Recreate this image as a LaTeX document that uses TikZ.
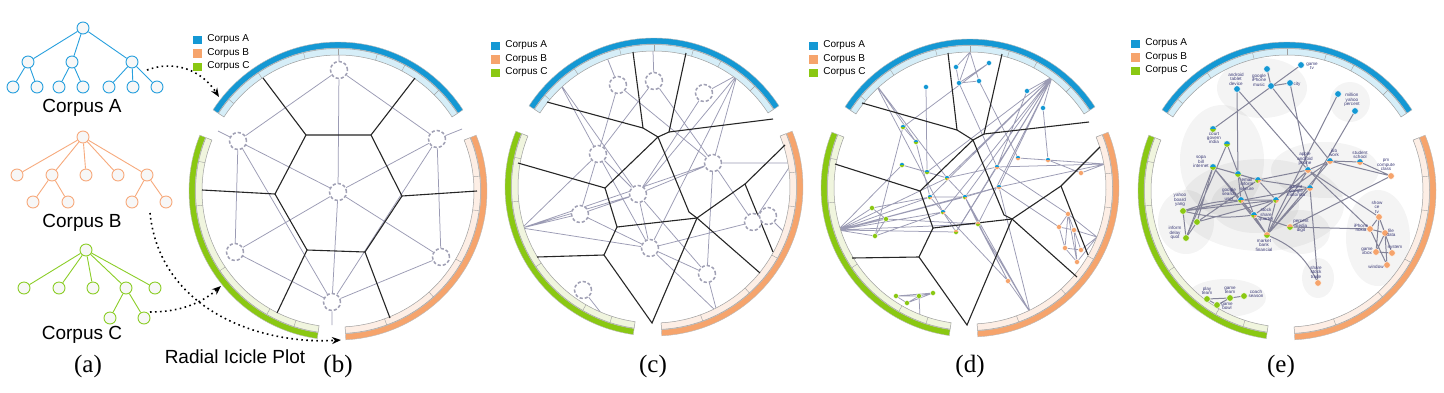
\documentclass[tikz,border=0pt]{standalone}
\usepackage{fontspec}
\setmainfont{Liberation Sans}
\newfontfamily\capfont{Liberation Serif}
\usetikzlibrary{arrows.meta,positioning,shapes}
\pgfdeclarelayer{back}
\pgfsetlayers{back,main}
\definecolor{corpA}{RGB}{20,152,212}
\definecolor{corpB}{RGB}{246,164,108}
\definecolor{corpC}{RGB}{138,200,18}
\definecolor{lightA}{RGB}{214,238,248}
\definecolor{lightB}{RGB}{253,238,229}
\definecolor{lightC}{RGB}{240,245,222}
\definecolor{treeA}{RGB}{40,160,222}
\definecolor{treeB}{RGB}{247,170,125}
\definecolor{treeC}{RGB}{140,206,40}
\definecolor{edgeC}{RGB}{155,155,180}
\definecolor{nodeC}{RGB}{160,160,180}
\definecolor{navy}{RGB}{60,60,120}
\tikzset{
  tnode/.style={circle,draw=#1,fill=gray!6,line width=0.9pt,minimum size=12pt,inner sep=0pt},
  tedge/.style={draw=#1,line width=0.9pt},
  dnode/.style={circle,draw=nodeC,fill=white,line width=1.5pt,dash pattern=on 3.2pt off 2pt,minimum size=17pt,inner sep=0pt},
  gedge/.style={draw=edgeC,line width=0.75pt},
  eedge/.style={draw=edgeC!85!black,line width=1pt},
  voro/.style={draw=black!85,line width=1.1pt},
  dotbase/.style={circle,inner sep=0pt,minimum size=5pt,draw=white,line width=0.3pt},
  dotA/.style={dotbase,fill=corpA},
  dotB/.style={dotbase,fill=corpB},
  dotC/.style={dotbase,fill=corpC},
  dotAC/.style={dotbase,fill=corpC,path picture={\fill[corpA] (path picture bounding box.west) rectangle (path picture bounding box.north east);}},
  dotAB/.style={dotbase,fill=corpB,path picture={\fill[corpA] (path picture bounding box.west) rectangle (path picture bounding box.north east);}},
  dotBC/.style={dotbase,fill=corpC,path picture={\fill[corpB] (path picture bounding box.west) rectangle (path picture bounding box.north east);}},
  dotABC/.style={dotbase,fill=corpB,path picture={\fill[corpA] (path picture bounding box.west) rectangle (path picture bounding box.north east);\fill[corpC] (path picture bounding box.south west) rectangle (path picture bounding box.center);}},
  big/.style={minimum size=6.5pt},
  wlab/.style={font=\fontsize{4.6}{4.4}\selectfont,text=navy,align=center,inner sep=0pt},
  legsq/.style={minimum width=10pt,minimum height=9.5pt,inner sep=0pt,draw=white,line width=0.3pt},
  legtx/.style={font=\fontsize{10}{12}\selectfont,inner sep=0pt,anchor=west},
  bigtx/.style={font=\fontsize{19}{22}\selectfont,inner sep=0pt},
  captx/.style={font=\capfont\fontsize{25}{28}\selectfont,inner sep=0pt},
  dotarrow/.style={line width=1.6pt,dash pattern=on 1.6pt off 3.4pt,-{Stealth[length=9pt,width=7pt]}},
  blob/.style={fill=black,fill opacity=0.045,draw=none}
}
\newcommand{\icering}[1]{%
\begin{scope}[shift={#1}]
\foreach \ia/\ib/\col/\lcol in {33/147/corpA/lightA,-87/22/corpB/lightB,158/262/corpC/lightC}{
\filldraw[fill=\col,draw=gray!55,line width=0.4pt] (\ia:149) arc[start angle=\ia,end angle=\ib,radius=149] -- (\ib:143) arc[start angle=\ib,end angle=\ia,radius=143] -- cycle;
\filldraw[fill=\lcol,draw=gray!75,line width=0.5pt] (\ia:142.5) arc[start angle=\ia,end angle=\ib,radius=142.5] -- (\ib:136) arc[start angle=\ib,end angle=\ia,radius=136] -- cycle;
}
\foreach \tk in {45,62,74,90,104,124,140,-70,-48,-30,-8,6,168,186,214,240,252}
\draw[gray!75,line width=0.4pt] (\tk:136) -- (\tk:142.5);
\end{scope}}
\newcommand{\corplegend}[3]{%
\node[legsq,fill=corpA] (#1sqA) at (#2+5,#3-4.5) {};
\node[legsq,fill=corpB] (#1sqB) at (#2+5,#3-18) {};
\node[legsq,fill=corpC] (#1sqC) at (#2+5,#3-31.5) {};
\node[legtx,right=5pt of #1sqA] (#1txA) {Corpus A};
\node[legtx,right=5pt of #1sqB] (#1txB) {Corpus B};
\node[legtx,right=5pt of #1sqC] (#1txC) {Corpus C};}

\begin{document}
\begin{tikzpicture}[x=1pt,y=1pt]
\useasboundingbox (0,0) rectangle (1444,-392);
\begin{pgfonlayer}{back}
\fill[white] (0,0) rectangle (1444,-392);
\end{pgfonlayer}

\node[tnode=treeA] (tAR) at (83,-28) {};
\node[tnode=treeA] (tA1) at (28,-62) {};
\node[tnode=treeA] (tA2) at (72,-62) {};
\node[tnode=treeA] (tA3) at (132,-62) {};
\node[tnode=treeA] (tA11) at (13,-87) {};
\node[tnode=treeA] (tA12) at (37,-87) {};
\node[tnode=treeA] (tA21) at (59,-87) {};
\node[tnode=treeA] (tA22) at (83,-87) {};
\node[tnode=treeA] (tA31) at (109,-87) {};
\node[tnode=treeA] (tA32) at (133,-87) {};
\node[tnode=treeA] (tA33) at (157,-87) {};
\draw[tedge=treeA] (tAR) -- (tA1) (tAR) -- (tA2) (tAR) -- (tA3) (tA1) -- (tA11) (tA1) -- (tA12) (tA2) -- (tA21) (tA2) -- (tA22) (tA3) -- (tA31) (tA3) -- (tA32) (tA3) -- (tA33);
\node[bigtx] (labA) at (82,-108) {Corpus A};

\node[tnode=treeB] (tBR) at (83,-137) {};
\node[tnode=treeB] (tB1) at (17,-175) {};
\node[tnode=treeB] (tB2) at (52,-175) {};
\node[tnode=treeB] (tB3) at (86,-175) {};
\node[tnode=treeB] (tB4) at (118,-175) {};
\node[tnode=treeB] (tB5) at (147,-175) {};
\node[tnode=treeB] (tB21) at (33,-202) {};
\node[tnode=treeB] (tB22) at (68,-202) {};
\node[tnode=treeB] (tB51) at (132,-202) {};
\node[tnode=treeB] (tB52) at (166,-202) {};
\draw[tedge=treeB] (tBR) -- (tB1) (tBR) -- (tB2) (tBR) -- (tB3) (tBR) -- (tB4) (tBR) -- (tB5) (tB2) -- (tB21) (tB2) -- (tB22) (tB5) -- (tB51) (tB5) -- (tB52);
\node[bigtx] (labB) at (82,-223) {Corpus B};

\node[tnode=treeC] (tCR) at (86,-250) {};
\node[tnode=treeC] (tC1) at (24,-288) {};
\node[tnode=treeC] (tC2) at (59,-288) {};
\node[tnode=treeC] (tC3) at (93,-288) {};
\node[tnode=treeC] (tC4) at (126,-288) {};
\node[tnode=treeC] (tC5) at (155,-288) {};
\node[tnode=treeC] (tC41) at (110,-318) {};
\node[tnode=treeC] (tC42) at (144,-318) {};
\draw[tedge=treeC] (tCR) -- (tC1) (tCR) -- (tC2) (tCR) -- (tC3) (tCR) -- (tC4) (tCR) -- (tC5) (tC4) -- (tC41) (tC4) -- (tC42);
\node[bigtx] (labC) at (82,-335) {Corpus C};

\node[captx] (capA) at (88,-366) {(a)};
\node[bigtx] (labRIP) at (235,-357) {Radial Icicle Plot};

\icering{(338,-191)}
\icering{(654,-187)}
\icering{(970,-188)}
\icering{(1287,-191)}
\corplegend{b}{192}{-35}
\corplegend{c}{490}{-41}
\corplegend{d}{808}{-41}
\corplegend{e}{1130}{-39}

\coordinate (srcA) at (147,-70);
\coordinate (dstA) at (219,-97);
\coordinate (srcB) at (150,-213);
\coordinate (dstB) at (341,-340);
\coordinate (srcC) at (150,-312);
\coordinate (dstC) at (221,-286);
\draw[dotarrow] (srcA) .. controls (180,-58) and (205,-75) .. (dstA);
\draw[dotarrow] (srcB) .. controls (160,-310) and (260,-345) .. (dstB);
\draw[dotarrow] (srcC) .. controls (185,-312) and (205,-300) .. (dstC);

\draw[voro] (263,-78) -- (306,-135) -- (371,-135) -- (415,-78);
\draw[voro] (306,-135) -- (275,-194) -- (202,-190);
\draw[voro] (371,-135) -- (402,-196) -- (477,-191);
\draw[voro] (275,-194) -- (307,-250) -- (277,-313);
\draw[voro] (402,-196) -- (365,-252) -- (390,-318);
\draw[voro] (307,-250) -- (365,-252);
\node[dnode] (bT) at (339,-70) {};
\node[dnode] (bUL) at (238,-141) {};
\node[dnode] (bUR) at (437,-139) {};
\node[dnode] (bC) at (338,-192) {};
\node[dnode] (bLL) at (235,-252) {};
\node[dnode] (bLR) at (441,-257) {};
\node[dnode] (bB) at (332,-302) {};
\coordinate (bRT) at (339,-52);
\coordinate (bRUL) at (218,-131);
\coordinate (bRUR) at (462,-129);
\coordinate (bRB) at (332,-325);
\begin{pgfonlayer}{back}
\draw[gedge] (bRT) -- (bT) (bT) -- (bUL) (bT) -- (bUR) (bT) -- (bC) (bUL) -- (bC) (bUR) -- (bC) (bUL) -- (bLL) (bUL) -- (bB) (bUR) -- (bLR) (bUR) -- (bB) (bC) -- (bLL) (bC) -- (bLR) (bC) -- (bB) (bLL) -- (bB) (bLR) -- (bB) (bUL) -- (bRUL) (bUR) -- (bRUR) (bB) -- (bRB);
\end{pgfonlayer}
\node[captx] (capB) at (338,-366) {(b)};

\draw[voro] (547,-102) -- (643,-128) -- (633,-52);
\draw[voro] (643,-128) -- (658,-137) -- (669,-132) -- (686,-53);
\draw[voro] (669,-132) -- (773,-119);
\draw[voro] (518,-163) -- (605,-188) -- (658,-137) -- (689,-212) -- (697,-218);
\draw[voro] (605,-188) -- (617,-227) -- (697,-218) -- (745,-184) -- (785,-145);
\draw[voro] (745,-184) -- (773,-252);
\draw[voro] (697,-218) -- (760,-273);
\draw[voro] (617,-227) -- (604,-255) -- (652,-323) -- (697,-218);
\draw[voro] (537,-257) -- (604,-255);
\node[dnode] (c1) at (618,-85) {};
\node[dnode] (c2) at (654,-81) {};
\node[dnode] (c3) at (704,-93) {};
\node[dnode] (c4) at (598,-154) {};
\node[dnode] (c5) at (713,-163) {};
\node[dnode] (c6) at (638,-194) {};
\node[dnode] (c7) at (580,-214) {};
\node[dnode] (c8) at (753,-222) {};
\node[dnode] (c9) at (768,-216) {};
\node[dnode] (c10) at (650,-248) {};
\node[dnode] (c11) at (707,-274) {};
\node[dnode] (c12) at (583,-290) {};
\coordinate (cR1) at (606,-55);
\coordinate (cR2) at (653,-51);
\coordinate (cR3) at (737,-75);
\coordinate (cR4) at (559,-82);
\coordinate (cR5) at (522,-228);
\coordinate (cR6) at (792,-163);
\coordinate (cR7) at (717,-312);
\coordinate (cR8) at (605,-318);
\coordinate (cR9) at (787,-235);
\begin{pgfonlayer}{back}
\draw[gedge] (cR1) -- (c1) (cR2) -- (c2) (c1) -- (c4) (c2) -- (c4) (c2) -- (c5) (c1) -- (c5) (c3) -- (cR3) (c3) -- (c6) (cR3) -- (c5) (cR3) -- (c6) (cR3) -- (c10) (cR4) -- (c4) (cR4) -- (c6) (c4) -- (c7) (c4) -- (c6) (c4) -- (cR5) (c4) -- (c10);
\draw[gedge] (c6) -- (c5) (c6) -- (c10) (c6) -- (c7) (c6) -- (c11) (c7) -- (cR5) (c7) -- (c10) (cR5) -- (c6) (cR5) -- (c10) (cR5) -- (c5) (c5) -- (c8) (c5) -- (cR6) (c5) -- (c11) (c8) -- (c9) (c8) -- (cR6) (c9) -- (cR9) (c10) -- (c8) (c10) -- (c11) (c11) -- (cR7) (c10) -- (cR7) (c12) -- (cR8);
\end{pgfonlayer}
\node[captx] (capC) at (653,-366) {(c)};

\draw[voro] (862,-103) -- (957,-130) -- (948,-53);
\draw[voro] (957,-130) -- (973,-140) -- (984,-134) -- (1002,-54);
\draw[voro] (984,-134) -- (1089,-122);
\draw[voro] (835,-164) -- (920,-191) -- (973,-140) -- (1004,-215) -- (1012,-219);
\draw[voro] (920,-191) -- (933,-228) -- (1012,-219) -- (1061,-186) -- (1100,-147);
\draw[voro] (1061,-186) -- (1088,-255);
\draw[voro] (1012,-219) -- (1077,-277);
\draw[voro] (933,-228) -- (919,-257) -- (967,-325) -- (1012,-219);
\draw[voro] (852,-258) -- (919,-257);
\node[dotA] (dA1) at (956,-67) {};
\node[dotA] (dA2) at (989,-63) {};
\node[dotA] (dA3) at (959,-83) {};
\node[dotA] (dA4) at (979,-81) {};
\node[dotA] (dA5) at (926,-87) {};
\node[dotA] (dA6) at (1027,-91) {};
\node[dotA] (dA7) at (1043,-108) {};
\node[dotAC] (dB1) at (903,-127) {};
\node[dotAC] (dB2) at (916,-142) {};
\node[dotAC] (dB3) at (902,-165) {};
\node[dotAC] (dB4) at (927,-172) {};
\node[dotAB] (dC1) at (1018,-158) {};
\node[dotAB] (dC2) at (1048,-160) {};
\node[dotAB] (dC3) at (997,-167) {};
\node[dotAB] (dC4) at (999,-187) {};
\node[dotABC] (dT1) at (947,-178) {};
\node[dotABC] (dT2) at (930,-197) {};
\node[dotABC] (dT3) at (965,-197) {};
\node[dotABC] (dT4) at (943,-212) {};
\node[dotBC] (dE1) at (978,-224) {};
\node[dotBC] (dE2) at (956,-232) {};
\node[dotB] (dO1) at (1081,-173) {};
\node[dotB] (dO2) at (1068,-214) {};
\node[dotB] (dO3) at (1059,-227) {};
\node[dotB] (dO4) at (1074,-230) {};
\node[dotB] (dO5) at (1065,-248) {};
\node[dotB] (dO6) at (1081,-250) {};
\node[dotB] (dO7) at (1077,-262) {};
\node[dotB] (dO8) at (1008,-281) {};
\node[dotC] (dG1) at (872,-208) {};
\node[dotC] (dG2) at (886,-219) {};
\node[dotC] (dG3) at (875,-236) {};
\node[dotC] (dG4) at (896,-296) {};
\node[dotC] (dG5) at (907,-303) {};
\node[dotC] (dG6) at (919,-296) {};
\node[dotC] (dG7) at (933,-293) {};
\coordinate (dR1) at (1052,-77);
\coordinate (dR2) at (838,-230);
\coordinate (dR3) at (1105,-164);
\coordinate (dR4) at (1097,-237);
\coordinate (dR5) at (1030,-312);
\coordinate (dR6) at (970,-52);
\coordinate (dR7) at (875,-83);
\coordinate (dR8) at (920,-317);
\begin{pgfonlayer}{back}
\draw[gedge] (dR6) -- (dA3) (dR6) -- (dA4) (dR6) -- (dA1) (dA1) -- (dA3) (dA3) -- (dA4) (dA3) -- (dA2) (dA3) -- (dC3) (dA4) -- (dC1) (dA5) -- (dB4) (dB1) -- (dA2) (dR7) -- (dB2) (dR7) -- (dT4) (dR7) -- (dT1);
\draw[gedge] (dR1) -- (dA6) (dR1) -- (dA7) (dR1) -- (dT1) (dR1) -- (dT2) (dR1) -- (dT3) (dR1) -- (dT4) (dR1) -- (dE1) (dR1) -- (dC3) (dR1) -- (dB4) (dR1) -- (dC4) (dR1) -- (dE2) (dA6) -- (dC3) (dA7) -- (dC2);
\draw[gedge] (dR2) -- (dG1) (dR2) -- (dG2) (dR2) -- (dG3) (dR2) -- (dT2) (dR2) -- (dT3) (dR2) -- (dT4) (dR2) -- (dE1) (dR2) -- (dE2) (dR2) -- (dB3) (dR2) -- (dC4) (dR2) -- (dT1) (dG1) -- (dG2) (dG2) -- (dG3) (dG1) -- (dT2) (dG2) -- (dE1) (dG3) -- (dT4);
\draw[gedge] (dB1) -- (dB2) (dB3) -- (dB4) (dB3) -- (dT1) (dB4) -- (dT1) (dB2) -- (dT2) (dB1) -- (dG3) (dT1) -- (dT3) (dT2) -- (dT4) (dT3) -- (dE1) (dT4) -- (dE2) (dT3) -- (dC4) (dT1) -- (dC3) (dT2) -- (dT3);
\draw[gedge] (dC1) -- (dC2) (dC1) -- (dR3) (dC2) -- (dR3) (dC2) -- (dO1) (dC3) -- (dR3) (dC4) -- (dR3) (dC3) -- (dO2) (dC4) -- (dO3) (dO1) -- (dR3);
\draw[gedge] (dO2) -- (dO3) (dO2) -- (dO4) (dO2) -- (dO5) (dO3) -- (dO4) (dO3) -- (dO5) (dO4) -- (dO6) (dO4) -- (dO7) (dO5) -- (dO6) (dO5) -- (dO7) (dO2) -- (dO7) (dR4) -- (dO2) (dR4) -- (dO4) (dR4) -- (dO6) (dR4) -- (dO7);
\draw[gedge] (dO8) -- (dR5) (dO8) -- (dT3) (dO8) -- (dT4) (dO8) -- (dE1) (dR5) -- (dE1) (dR5) -- (dT3) (dR5) -- (dC4) (dE2) -- (dC3);
\draw[gedge] (dG4) -- (dG5) (dG4) -- (dG6) (dG4) -- (dG7) (dG5) -- (dG6) (dG5) -- (dG7) (dG6) -- (dG7) (dG6) -- (dR8);
\end{pgfonlayer}
\node[captx] (capD) at (970,-366) {(d)};

\begin{pgfonlayer}{back}
\fill[blob] (1262,-88) ellipse [x radius=45,y radius=30];
\fill[blob] (1222,-160) ellipse [x radius=42,y radius=55];
\fill[blob] (1262,-205) ellipse [x radius=82,y radius=46];
\fill[blob] (1255,-205) ellipse [x radius=44,y radius=28];
\fill[blob] (1325,-170) ellipse [x radius=54,y radius=28];
\fill[blob] (1378,-238) ellipse [x radius=32,y radius=48];
\fill[blob] (1186,-222) ellipse [x radius=28,y radius=32];
\fill[blob] (1226,-298) ellipse [x radius=40,y radius=19];
\fill[blob] (1318,-278) ellipse [x radius=16,y radius=20];
\fill[blob] (1350,-102) ellipse [x radius=20,y radius=20];
\fill[blob] (1300,-232) ellipse [x radius=30,y radius=22];
\end{pgfonlayer}
\node[dotA,big] (eA1) at (1267,-69) {};
\node[dotA,big] (eA2) at (1237,-89) {};
\node[dotA,big] (eA3) at (1271,-86) {};
\node[dotA,big] (eA4) at (1301,-65) {};
\node[dotA,big] (eA5) at (1290,-83) {};
\node[dotA,big] (eA6) at (1338,-94) {};
\node[dotA,big] (eA7) at (1355,-111) {};
\node[dotAC,big] (eB1) at (1213,-129) {};
\node[dotAC,big] (eB2) at (1227,-144) {};
\node[dotAC,big] (eB3) at (1213,-167) {};
\node[dotAC,big] (eB4) at (1238,-174) {};
\node[dotAB,big] (eC1) at (1330,-161) {};
\node[dotAB,big] (eC2) at (1360,-162) {};
\node[dotAB,big] (eC3) at (1308,-170) {};
\node[dotAB,big] (eC4) at (1310,-188) {};
\node[dotABC,big] (eT1) at (1258,-180) {};
\node[dotABC,big] (eT2) at (1241,-200) {};
\node[dotABC,big] (eT3) at (1276,-200) {};
\node[dotABC,big] (eT4) at (1254,-215) {};
\node[dotBC,big] (eE1) at (1267,-235) {};
\node[dotBC,big] (eE2) at (1290,-227) {};
\node[dotB,big] (eO1) at (1391,-176) {};
\node[dotB,big] (eO2) at (1379,-217) {};
\node[dotB,big] (eO3) at (1370,-229) {};
\node[dotB,big] (eO4) at (1385,-233) {};
\node[dotB,big] (eO5) at (1376,-252) {};
\node[dotB,big] (eO6) at (1392,-253) {};
\node[dotB,big] (eO7) at (1387,-265) {};
\node[dotB,big] (eO8) at (1318,-283) {};
\node[dotC,big] (eG1) at (1183,-211) {};
\node[dotC,big] (eG2) at (1197,-222) {};
\node[dotC,big] (eG3) at (1186,-238) {};
\node[dotC,big] (eG4) at (1207,-299) {};
\node[dotC,big] (eG5) at (1230,-298) {};
\node[dotC,big] (eG6) at (1244,-296) {};
\node[dotC,big] (eG7) at (1217,-305) {};
\node[wlab] (wA2) at (1236,-79) {android\\tablet\\device};
\node[wlab] (wA3) at (1259,-80) {google\\iPhone\\music};
\node[wlab] (wA4) at (1312,-66) {game\\tv};
\node[wlab] (wA5) at (1297,-84) {city};
\node[wlab] (wA6) at (1352,-100) {million\\yahoo\\percent};
\node[wlab] (wB1) at (1214,-138) {court\\govern\\india};
\node[wlab] (wB3) at (1201,-162) {sopa\\bill\\internet};
\node[wlab] (wB4) at (1247,-184) {email\\inform\\secure};
\node[wlab] (wC1) at (1334,-153) {job\\work};
\node[wlab] (wC2) at (1360,-155) {student\\school};
\node[wlab] (wC3) at (1305,-159) {apple\\android\\phone};
\node[wlab] (wC4) at (1296,-191) {patent\\google\\motorola};
\node[wlab] (wT2) at (1229,-194) {google\\search\\user};
\node[wlab] (wT4) at (1266,-215) {stock\\share\\quarter};
\node[wlab] (wE1) at (1264,-245) {market\\bank\\financial};
\node[wlab] (wE2) at (1301,-226) {percent\\media\\digit};
\node[wlab] (wO1) at (1386,-165) {pm\\compute\\class};
\node[wlab] (wO2) at (1377,-207) {show\\ce\\tv};
\node[wlab] (wO3) at (1361,-228) {iPhone\\nokia};
\node[wlab] (wO4) at (1391,-233) {file\\data};
\node[wlab] (wO5) at (1367,-251) {game\\xbox};
\node[wlab] (wO6) at (1395,-247) {system};
\node[wlab] (wO7) at (1376,-267) {window};
\node[wlab] (wO8) at (1316,-272) {share\\stock\\trade};
\node[wlab] (wG1) at (1180,-200) {yahoo\\board\\yang};
\node[wlab] (wG3) at (1175,-233) {inform\\delay\\quot};
\node[wlab] (wG4) at (1207,-291) {play\\team};
\node[wlab] (wG5) at (1230,-290) {game\\team};
\node[wlab] (wG6) at (1256,-294) {coach\\season};
\node[wlab] (wG7) at (1227,-306) {game\\bowl};
\begin{pgfonlayer}{back}
\draw[eedge] (eA1) -- (eA3) (eA3) -- (eA5) (eB1) -- (eA4) (eA2) -- (eB4) (eA2) -- (eC3) (eA3) -- (eC1) (eA5) -- (eC3) (eA6) -- (eE1) (eA7) -- (eC4);
\draw[eedge] (eB2) -- (eT4) (eB2) -- (eG3) (eB3) -- (eB4) (eB3) -- (eT1) (eB3) -- (eT4) (eB3) -- (eE1) (eB3) -- (eG2) (eB4) -- (eT1) (eB4) -- (eT2) (eT1) -- (eC3) (eT1) -- (eC4) (eT1) -- (eT3);
\draw[eedge] (eG1) to[bend left=8] (eT2) (eG1) -- (eT3) (eG1) to[bend right=10] (eT4) (eG1) -- (eC4) (eG1) -- (eG3) (eG2) -- (eT1) (eG2) -- (eT3) (eG2) -- (eG3) (eG3) -- (eB3);
\draw[eedge] (eT2) -- (eT3) (eT2) -- (eE1) (eT4) -- (eE1) (eT4) -- (eC1) (eT3) -- (eE1) (eT3) -- (eC3) (eE1) -- (eC4) (eE1) -- (eC3) (eE1) -- (eC1) (eE1) to[bend left=20] (eO8);
\draw[eedge] (eE2) -- (eO1) (eE2) -- (eO3) (eE2) -- (eT4) (eC1) -- (eC2) (eC2) -- (eO1) (eC1) -- (eO1) (eC3) -- (eC1) (eC3) -- (eO3) (eC3) -- (eO2) (eC4) -- (eO8);
\draw[eedge] (eO2) -- (eO3) (eO2) -- (eO4) (eO2) -- (eO5) (eO2) -- (eO6) (eO3) -- (eO4) (eO3) -- (eO7) (eO5) -- (eO6) (eO5) -- (eO4) (eO4) -- (eO7);
\draw[eedge] (eG4) -- (eG5) (eG5) -- (eG6) (eG4) -- (eG7) (eG5) -- (eG7);
\end{pgfonlayer}
\node[captx] (capE) at (1281,-366) {(e)};
\end{tikzpicture}
\end{document}
